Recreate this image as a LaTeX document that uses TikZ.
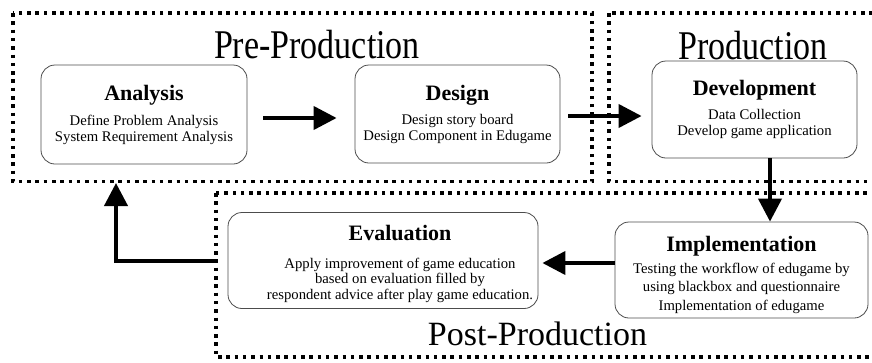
\documentclass[tikz,border=0pt]{standalone}
\usepackage{fontspec}
\setmainfont{Liberation Serif}
\usepackage{graphicx}
\usetikzlibrary{arrows.meta,calc}

\tikzset{
  phase/.style={line width=3.5pt, dash pattern=on 3.5pt off 4.8pt},
  phaselabel/.style={font=\fontsize{34}{40}\selectfont, inner sep=0pt, anchor=base},
  stepbox/.style={draw=black!70, line width=0.8pt, rounded corners=14pt, align=center,
    inner sep=0pt, font=\fontsize{14.7}{16}\selectfont},
  flow/.style={line width=4pt, -{Triangle[length=23pt,width=23pt]}},
}
\newcommand{\steptitle}[1]{{\fontsize{22}{24}\selectfont\bfseries #1}}

\begin{document}
\begin{tikzpicture}[x=1pt,y=1pt,yscale=-1]
    \useasboundingbox (0,0) rectangle (872,362);
    % Phase Frames
    \draw[phase] (13,13) rectangle (592,181.5);
    \draw[phase] (609,13) rectangle (892,181.5);
    \draw[phase] (216,193) rectangle (892,357);
    % Phase Labels
    \node[phaselabel] (prelabel) at (317,58.5) {\scalebox{1}[1.2]{Pre-Production}};
    \node[phaselabel] (prodlabel) at (753,59) {\scalebox{1}[1.2]{Production}};
    \node[phaselabel] (postlabel) at (537.5,345) {Post-Production};
    % Text Node
    \node[stepbox, minimum width=206pt, minimum height=99pt] (analysis) at (144,114.5)
        {\steptitle{Analysis}\\[9pt] Define Problem Analysis\\ System Requirement Analysis};
    % Text Node
    \node[stepbox, minimum width=205pt, minimum height=98pt] (design) at (457.5,114)
        {\steptitle{Design}\\[8pt] Design story board\\ Design Component in Edugame};
    % Text Node
    \node[stepbox, minimum width=205pt, minimum height=97pt, font=\fontsize{14.7}{16.6}\selectfont] (dev) at (754.5,109.5)
        {\steptitle{Development}\\[7.4pt] Data Collection\\ Develop game application};
    % Text Node
    \node[stepbox, minimum width=253pt, minimum height=96pt, font=\fontsize{14.7}{18.4}\selectfont] (impl) at (741.5,270)
        {\steptitle{\rule{0pt}{25pt}Implementation}\\[3.2pt] Testing the workflow of edugame by\\ using blackbox and questionnaire\\ Implementation of edugame};
    % Text Node
    \node[stepbox, minimum width=310pt, minimum height=96pt] (eval) at (383,260.5) {};
    \node[align=center, inner sep=0pt, font=\fontsize{14.7}{15.5}\selectfont] (evaltext) at (400,264.1)
        {\steptitle{Evaluation}\\[12pt] Apply improvement of game education\\ based on evaluation filled by\\ respondent advice after play game education.};
    % Connection
    \draw[flow] ($(analysis.east)+(16,3.5)$) -- ($(analysis.east -| design.west)+(-18,3.5)$);
    % Connection
    \draw[flow] ($(design.east)+(8,2)$) -- ($(design.east -| dev.west)+(-10,2)$);
    % Connection
    \draw[flow] ($(dev.south)+(15.5,0)$) coordinate (devout) -- (devout |- impl.north);
    % Connection
    \draw[flow] ($(impl.west)+(0,-7)$) coordinate (implout) -- ($(implout -| eval.east)+(4,0)$);
    % Connection
    \coordinate (postout) at (216,261);
    \coordinate (loopback) at (116,183);
    \draw[flow] (postout) -| (loopback);
\end{tikzpicture}
\end{document}
